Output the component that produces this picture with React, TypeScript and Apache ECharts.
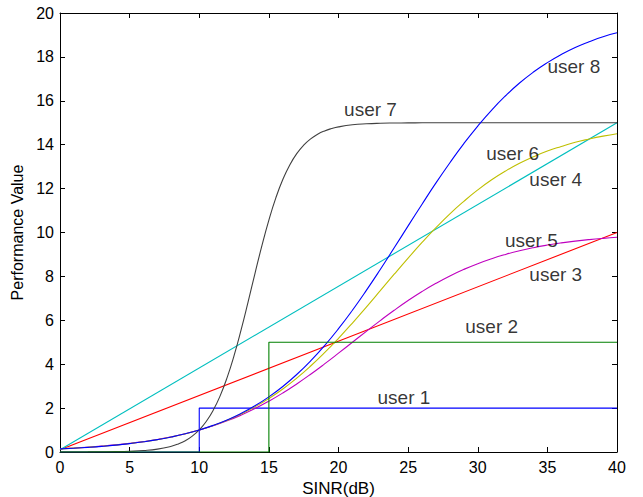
import React, { useEffect, useRef } from "react";
import * as echarts from "echarts";

// SINR grid (dB) for the smooth curves
const snrDb = [0, 1, 2, 3, 4, 5, 6, 7, 8, 9, 10, 11, 12, 13, 14, 15, 16, 17, 18, 19, 20,
  21, 22, 23, 24, 25, 26, 27, 28, 29, 30, 31, 32, 33, 34, 35, 36, 37, 38, 39, 40];

// user 1 & user 2: step curves
const user1X = [0, 10, 10, 40];
const user1Y = [0, 0, 2, 2];
const user2X = [0, 15, 15, 40];
const user2Y = [0, 0, 5, 5];

// user 3 & user 4: linear
const user3X = [0, 40];
const user3Y = [0.1, 10];
const user4X = [0, 40];
const user4Y = [0.1, 15];

// user 5 (values at snrDb)
const user5Y = [0.148, 0.18, 0.219, 0.266, 0.323, 0.392, 0.474, 0.573, 0.691, 0.832, 0.998,
  1.192, 1.419, 1.68, 1.978, 2.315, 2.689, 3.1, 3.543, 4.013, 4.502,
  5.0, 5.498, 5.987, 6.457, 6.9, 7.311, 7.685, 8.022, 8.32, 8.581,
  8.808, 9.002, 9.168, 9.309, 9.427, 9.526, 9.608, 9.677, 9.734, 9.781];

// user 6 (values at snrDb)
const user6Y = [0.144, 0.175, 0.213, 0.259, 0.316, 0.384, 0.466, 0.565, 0.685, 0.828, 0.999,
  1.203, 1.444, 1.726, 2.055, 2.437, 2.873, 3.366, 3.917, 4.523, 5.179,
  5.876, 6.605, 7.35, 8.099, 8.834, 9.548, 10.22, 10.85, 11.42, 11.94,
  12.4, 12.8, 13.15, 13.45, 13.71, 13.92, 14.11, 14.26, 14.39, 14.5];

// user 8 (values at snrDb)
const user8Y = [0.142, 0.173, 0.211, 0.257, 0.313, 0.382, 0.464, 0.564, 0.684, 0.83, 1.004,
  1.213, 1.462, 1.757, 2.106, 2.513, 2.986, 3.531, 4.15, 4.846, 5.618,
  6.46, 7.364, 8.316, 9.302, 10.3, 11.29, 12.26, 13.18, 14.05, 14.85,
  15.58, 16.23, 16.81, 17.31, 17.74, 18.11, 18.43, 18.69, 18.92, 19.1];

// user 7
const user7X = [0, 1, 2, 3, 4, 5, 6, 7, 8, 8.5, 9, 9.5, 10, 10.5, 11, 11.5, 12, 12.5, 13, 13.5,
  14, 14.5, 15, 15.5, 16, 16.5, 17, 17.5, 18, 18.5, 19, 19.5, 20, 21, 22, 23, 24, 25, 26, 28, 30, 35, 40];
const user7Y = [0.001, 0.002, 0.004, 0.008, 0.016, 0.033, 0.065, 0.131, 0.262, 0.368, 0.517, 0.724,
  1.007, 1.389, 1.898, 2.558, 3.388, 4.391, 5.551, 6.818, 8.128, 9.4, 10.565, 11.576, 12.413,
  13.079, 13.593, 13.981, 14.267, 14.476, 14.627, 14.735, 14.812, 14.906, 14.953, 14.977,
  14.988, 14.994, 14.997, 14.999, 15.0, 15.0, 15.0];

// annotation labels
const labelNames = ["user 1", "user 2", "user 3", "user 4", "user 5", "user 6", "user 7", "user 8"];
const labelX = [24.7, 31.0, 35.6, 35.6, 33.85, 32.5, 22.3, 36.9];
const labelY = [2.5, 5.7, 8.1, 12.4, 9.65, 13.6, 15.6, 17.55];

const xTicks = { min: 0, max: 40, interval: 5 };
const yTicks = { min: 0, max: 20, interval: 2 };

const FONT = "'Liberation Sans', Arial, Helvetica, sans-serif";

function zip(xs: number[], ys: number[]) {
  return xs.map((x, i) => [x, ys[i]]);
}

export default function App() {
  const ref = useRef<HTMLDivElement>(null);
  useEffect(() => {
    if (!ref.current) return;
    const chart = echarts.init(ref.current, undefined, { renderer: "svg" });
    const lineBase = (name: string, color: string, data: number[][], smooth: boolean, z = 2) => ({
      name,
      type: "line",
      data,
      smooth,
      showSymbol: false,
      symbol: "none",
      lineStyle: { color, width: 1.1 },
      itemStyle: { color },
      z,
    });
    const axisCommon = {
      axisLine: { show: true, onZero: false, lineStyle: { color: "#000", width: 1 } },
      axisTick: { show: true, inside: true, length: 5, lineStyle: { color: "#000" } },
      splitLine: { show: false },
    };
    chart.setOption({
      animation: false,
      textStyle: { fontFamily: FONT },
      grid: { left: 60, right: 26, top: 13, bottom: 45, outerBoundsMode: "none" },
      xAxis: [
        {
          type: "value",
          ...xTicks,
          position: "bottom",
          name: "SINR(dB)",
          nameLocation: "middle",
          nameGap: 23,
          nameTextStyle: { color: "#000", fontSize: 17, fontFamily: FONT },
          axisLabel: { color: "#000", fontSize: 16, margin: 7, fontFamily: FONT },
          ...axisCommon,
        },
        {
          type: "value",
          ...xTicks,
          position: "top",
          axisLabel: { show: false },
          ...axisCommon,
        },
      ],
      yAxis: [
        {
          type: "value",
          ...yTicks,
          position: "left",
          name: "Performance Value",
          nameLocation: "middle",
          nameGap: 31,
          nameTextStyle: { color: "#000", fontSize: 16, fontFamily: FONT },
          axisLabel: { color: "#000", fontSize: 16, margin: 6, fontFamily: FONT },
          ...axisCommon,
        },
        {
          type: "value",
          ...yTicks,
          position: "right",
          axisLabel: { show: false },
          ...axisCommon,
        },
      ],
      series: [
        lineBase("user 1", "#0000ff", zip(user1X, user1Y), false),
        lineBase("user 3", "#ff0000", zip(user3X, user3Y), false),
        lineBase("user 4", "#00bfbf", zip(user4X, user4Y), false),
        lineBase("user 5", "#bf00bf", zip(snrDb, user5Y), true),
        lineBase("user 6", "#bfbf00", zip(snrDb, user6Y), true),
        lineBase("user 7", "#404040", zip(user7X, user7Y), true),
        lineBase("user 8", "#0000ff", zip(snrDb, user8Y), true),
        lineBase("user 2", "#008000", zip(user2X, user2Y), false, 3),
        {
          name: "labels",
          type: "scatter",
          symbolSize: 1,
          itemStyle: { color: "rgba(0,0,0,0)" },
          data: labelNames.map((n, i) => ({ name: n, value: [labelX[i], labelY[i]] })),
          label: {
            show: true,
            position: "inside",
            formatter: "{b}",
            color: "#000",
            fontSize: 19,
            fontFamily: FONT,
            align: "center",
            verticalAlign: "middle",
          },
          z: 5,
        },
      ],
    });
    return () => chart.dispose();
  }, []);
  return (
    <div
      ref={ref}
      style={{ position: "absolute", left: 0, top: 0, width: 643, height: 497, background: "#fff" }}
    />
  );
}
